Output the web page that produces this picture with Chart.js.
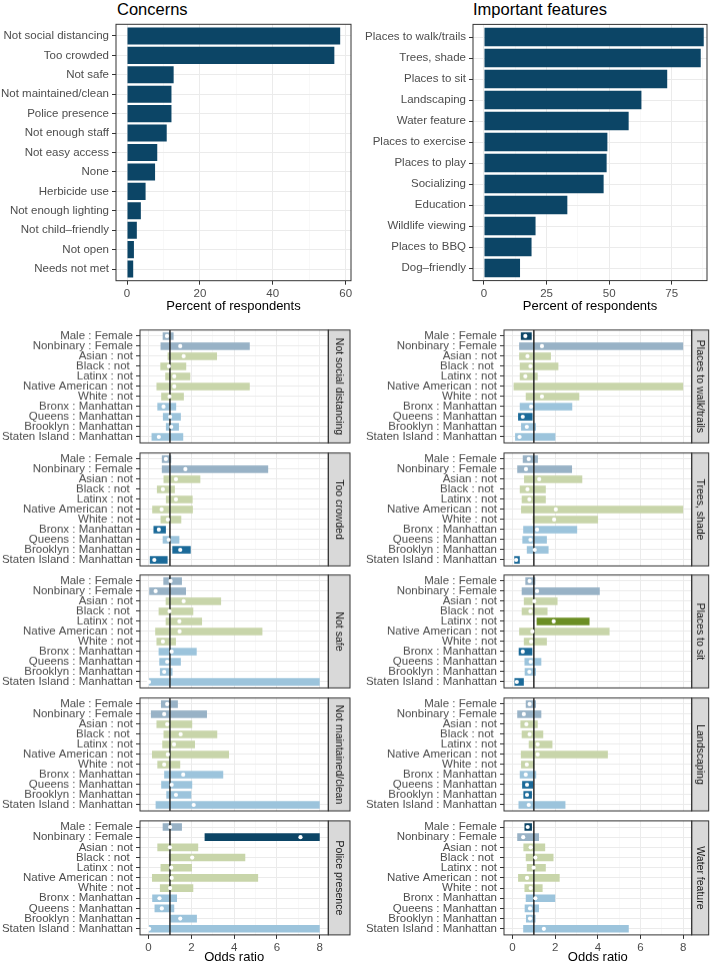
<!DOCTYPE html>
<html>
<head>
<meta charset="utf-8">
<script src="https://cdn.jsdelivr.net/npm/chart.js@4.4.0/dist/chart.umd.min.js"></script>
<style>
  body { margin: 0; background: #fff; width: 716px; height: 965px; position: relative; overflow: hidden; font-family: "Liberation Sans", Arial, sans-serif; }
  .box { position: absolute; }
  .title { position: absolute; font-size: 16.5px; color: #000; white-space: nowrap; }
</style>
</head>
<body>
<div class="title" style="left:117px;top:0px">Concerns</div>
<div class="title" style="left:473px;top:0px">Important features</div>
<script>
const concernLabels = ["Not social distancing", "Too crowded", "Not safe", "Not maintained/clean", "Police presence", "Not enough staff", "Not easy access", "None", "Herbicide use", "Not enough lighting", "Not child\u2013friendly", "Not open", "Needs not met"];
const concernValues = [58.5, 56.9, 12.8, 12.2, 12.2, 10.9, 8.3, 7.7, 5.1, 3.8, 2.7, 1.9, 1.7];

const featureLabels = ["Places to walk/trails", "Trees, shade", "Places to sit", "Landscaping", "Water feature", "Places to exercise", "Places to play", "Socializing", "Education", "Wildlife viewing", "Places to BBQ", "Dog\u2013friendly"];
const featureValues = [87.8, 86.6, 73.2, 62.9, 57.8, 49.3, 49.0, 47.8, 33.3, 20.6, 19.0, 14.4];

const contrastLabels = ["Male : Female", "Nonbinary : Female", "Asian : not", "Black : not ", "Latinx : not", "Native American : not", "White : not", "Bronx : Manhattan", "Queens : Manhattan", "Brooklyn : Manhattan", "Staten Island : Manhattan"];
const contrastGroup = ["gender", "gender", "race", "race", "race", "race", "race", "borough", "borough", "borough", "borough"];

// each row: [lower, estimate, upper]
const orNotSocial = [[0.66, 0.86, 1.17], [0.56, 1.48, 4.73], [0.89, 1.64, 3.20], [0.55, 0.95, 1.76], [0.78, 1.20, 1.95], [0.37, 1.20, 4.73], [0.59, 0.98, 1.65], [0.41, 0.70, 1.29], [0.67, 1.01, 1.51], [0.81, 1.06, 1.42], [0.14, 0.48, 1.62]];
const sigNotSocial = [0, 0, 0, 0, 0, 0, 0, 0, 0, 0, 0];

const orWalk = [[0.39, 0.60, 0.90], [0.31, 1.38, 8.0], [0.31, 0.70, 1.80], [0.34, 0.84, 2.15], [0.34, 0.60, 1.18], [0.05, null, 8.0], [0.62, 1.38, 3.13], [0.34, 0.87, 2.80], [0.26, 0.48, 0.94], [0.40, 0.67, 1.10], [0.12, 0.33, 2.01]];
const sigWalk = [1, 0, 0, 0, 0, 0, 0, 0, 1, 0, 0];

const orCrowded = [[0.62, 0.81, 1.06], [0.62, 1.72, 5.59], [0.70, 1.28, 2.42], [0.39, 0.67, 1.23], [0.81, 1.28, 2.06], [0.17, 0.61, 2.07], [0.56, 0.90, 1.53], [0.23, 0.48, 0.81], [0.66, 0.94, 1.44], [1.11, 1.48, 1.97], [0.06, 0.27, 0.89]];
const sigCrowded = [0, 0, 0, 0, 0, 0, 0, 1, 0, 1, 1];

const orTrees = [[0.48, 0.76, 1.19], [0.22, 0.63, 2.79], [0.54, 1.25, 3.27], [0.34, 0.70, 1.56], [0.43, 0.79, 1.56], [0.40, 2.03, 8.0], [0.94, 1.95, 4.01], [0.50, 1.15, 3.03], [0.46, 0.84, 1.61], [0.67, 1.04, 1.69], [0.08, 0.17, 0.34]];
const sigTrees = [0, 0, 0, 0, 0, 0, 0, 0, 0, 0, 1];

const orSafe = [[0.69, 1.03, 1.56], [0.03, 0.33, 1.75], [0.80, 1.64, 3.39], [0.47, 0.98, 2.09], [0.80, 1.44, 2.50], [0.31, 1.45, 5.32], [0.37, 0.67, 1.28], [0.47, 1.08, 2.25], [0.50, 0.87, 1.51], [0.53, 0.73, 1.12], [0.0, 0.02, 8.0]];
const sigSafe = [0, 0, 0, 0, 0, 0, 0, 0, 0, 0, 0];

const orSit = [[0.60, 0.80, 1.07], [0.43, 1.15, 4.09], [0.53, 1.02, 2.11], [0.43, 0.84, 1.64], [1.13, 1.93, 3.61], [0.31, 0.93, 4.55], [0.53, 0.87, 1.61], [0.29, 0.48, 0.93], [0.56, 0.85, 1.35], [0.57, 0.79, 1.10], [0.09, 0.20, 0.53]];
const sigSit = [0, 0, 0, 0, 1, 0, 0, 1, 0, 0, 1];

const orMaintained = [[0.58, 0.87, 1.37], [0.11, 0.73, 2.73], [0.37, 0.87, 2.04], [0.70, 1.50, 3.21], [0.64, 1.19, 2.17], [0.16, 0.90, 3.76], [0.41, 0.73, 1.48], [0.73, 1.62, 3.49], [0.59, 1.08, 2.04], [0.83, 1.28, 2.00], [0.33, 2.11, 8.0]];
const sigMaintained = [0, 0, 0, 0, 0, 0, 0, 0, 0, 0, 0];

const orLandscaping = [[0.62, 0.80, 1.10], [0.22, 0.53, 1.35], [0.37, 0.65, 1.18], [0.43, 0.80, 1.44], [0.76, 1.18, 1.87], [0.39, 1.18, 4.47], [0.40, 0.67, 1.02], [0.34, 0.62, 1.11], [0.45, 0.68, 0.96], [0.51, 0.68, 0.91], [0.28, 0.76, 2.48]];
const sigLandscaping = [0, 0, 0, 0, 0, 0, 0, 0, 1, 1, 0];

const orPolice = [[0.66, 1.01, 1.56], [2.62, 7.10, 8.0], [0.41, 1.00, 2.32], [0.95, 2.04, 4.52], [0.56, 1.06, 2.03], [0.16, 1.08, 5.12], [0.53, 1.01, 2.09], [0.17, 0.51, 1.33], [0.28, 0.62, 1.20], [1.01, 1.48, 2.26], [0.02, 0.03, 8.0]];
const sigPolice = [0, 1, 0, 0, 0, 0, 0, 0, 0, 0, 0];

const orWater = [[0.56, 0.71, 0.91], [0.22, 0.50, 1.24], [0.51, 0.85, 1.53], [0.62, 1.07, 1.92], [0.67, 0.99, 1.56], [0.26, 0.68, 2.21], [0.56, 0.85, 1.41], [0.62, 1.07, 2.00], [0.57, 0.82, 1.24], [0.63, 0.82, 1.08], [0.50, 1.47, 5.45]];
const sigWater = [1, 0, 0, 0, 0, 0, 0, 0, 0, 0, 0];

const oddsTicks = [0, 1, 2, 3, 4, 5, 6, 7, 8];
const concernTicks = [0, 10, 20, 30, 40, 50, 60];
const featureTicks = [0, 12.5, 25, 37.5, 50, 62.5, 75, 87.5];

const facets = [
  { label: "Not social distancing", rows: orNotSocial, sig: sigNotSocial, col: 0, row: 0 },
  { label: "Too crowded", rows: orCrowded, sig: sigCrowded, col: 0, row: 1 },
  { label: "Not safe", rows: orSafe, sig: sigSafe, col: 0, row: 2 },
  { label: "Not maintained/clean", rows: orMaintained, sig: sigMaintained, col: 0, row: 3 },
  { label: "Police presence", rows: orPolice, sig: sigPolice, col: 0, row: 4 },
  { label: "Places to walk/trails", rows: orWalk, sig: sigWalk, col: 1, row: 0 },
  { label: "Trees, shade", rows: orTrees, sig: sigTrees, col: 1, row: 1 },
  { label: "Places to sit", rows: orSit, sig: sigSit, col: 1, row: 2 },
  { label: "Landscaping", rows: orLandscaping, sig: sigLandscaping, col: 1, row: 3 },
  { label: "Water feature", rows: orWater, sig: sigWater, col: 1, row: 4 },
];

const navy = "#0c4566";
const fillLight = { gender: "#98b2c6", race: "#c8d5aa", borough: "#9cc4dc" };
const fillSig = { gender: navy, race: "#6b8e23", borough: "#1b6a99" };

Chart.defaults.font.family = '"Liberation Sans", Arial, sans-serif';
Chart.defaults.animation = false;

// panel border, reference line (under the points) and facet strip
const panelPlugin = {
  id: "panel",
  beforeDatasetDraw(chart, args, opts) {
    if (opts.refLine == null || args.index !== 1) return;
    const { ctx, chartArea } = chart;
    const x = chart.scales.x.getPixelForValue(opts.refLine);
    ctx.save();
    ctx.strokeStyle = "#1a1a1a";
    ctx.lineWidth = 1.4;
    ctx.beginPath();
    ctx.moveTo(x, chartArea.top);
    ctx.lineTo(x, chartArea.bottom);
    ctx.stroke();
    ctx.restore();
  },
  afterDraw(chart, args, opts) {
    const { ctx, chartArea: a } = chart;
    ctx.save();
    if (opts.strip) {
      const w = opts.stripWidth;
      ctx.fillStyle = "#d9d9d9";
      ctx.fillRect(a.right, a.top, w, a.bottom - a.top);
      ctx.strokeStyle = "#333";
      ctx.lineWidth = 1;
      ctx.strokeRect(a.right, a.top, w, a.bottom - a.top);
      ctx.translate(a.right + w / 2, (a.top + a.bottom) / 2);
      ctx.rotate(Math.PI / 2);
      ctx.fillStyle = "#1a1a1a";
      ctx.font = '10.5px "Liberation Sans", Arial, sans-serif';
      ctx.textAlign = "center";
      ctx.textBaseline = "middle";
      ctx.fillText(opts.strip, 0, 0);
      ctx.setTransform(1, 0, 0, 1, 0, 0);
    }
    ctx.strokeStyle = "#333";
    ctx.lineWidth = 1;
    ctx.strokeRect(a.left, a.top, a.right - a.left, a.bottom - a.top);
    ctx.restore();
  },
};

const place = (left, top, width, height) => {
  const div = document.createElement("div");
  div.className = "box";
  div.style.left = left + "px";
  div.style.top = top + "px";
  div.style.width = width + "px";
  div.style.height = height + "px";
  const canvas = document.createElement("canvas");
  div.appendChild(canvas);
  document.body.appendChild(div);
  return canvas;
};

const tickValue = (c) => (c && c.tick ? c.tick.value : NaN);

const categoryAxis = (labels, width) => ({
  type: "linear",
  reverse: true,
  offset: false,
  min: -0.6,
  max: labels.length - 0.4,
  afterBuildTicks: (scale) => {
    scale.ticks = labels.map((_, i) => ({ value: i }));
  },
  afterFit: (scale) => {
    scale.width = width;
  },
  border: { display: false },
  grid: { offset: false, color: "#ebebeb", lineWidth: 1, tickColor: "#333", tickLength: 4 },
  ticks: {
    autoSkip: false,
    padding: 3,
    color: "#4d4d4d",
    font: { size: 11.5 },
    callback: (v) => labels[v],
  },
});

const valueAxis = (min, max, tickValues, isMajor, height, showLabels, title) => ({
  type: "linear",
  offset: false,
  min: min,
  max: max,
  afterBuildTicks: (scale) => {
    scale.ticks = tickValues.map((v) => ({ value: v }));
  },
  afterFit: (scale) => {
    scale.height = height;
  },
  border: { display: false },
  grid: {
    offset: false,
    color: (c) => (isMajor(tickValue(c)) ? "#ebebeb" : "#f3f3f3"),
    lineWidth: (c) => (isMajor(tickValue(c)) ? 1 : 0.6),
    drawTicks: showLabels,
    tickColor: (c) => (isMajor(tickValue(c)) ? "#333" : "rgba(0,0,0,0)"),
    tickLength: 4,
  },
  ticks: {
    display: showLabels,
    autoSkip: false,
    maxRotation: 0,
    padding: 2,
    color: "#4d4d4d",
    font: { size: 11.5 },
    callback: (v) => (isMajor(v) ? String(v) : ""),
  },
  title: {
    display: !!title,
    text: title || "",
    color: "#000",
    font: { size: 13 },
    padding: { top: 0, bottom: 0 },
  },
});

// canvas box and plotting area are both given in page pixels
const buildTopChart = (box, area, labels, values, xMin, xMax, ticks, isMajor) => {
  const canvas = place(box.left, box.top, box.width, box.height);
  return new Chart(canvas, {
    type: "bar",
    data: {
      datasets: [
        {
          indexAxis: "y",
          data: labels.map((_, i) => ({ x: values[i], y: i })),
          backgroundColor: navy,
          barPercentage: 0.88,
          categoryPercentage: 1,
        },
      ],
    },
    options: {
      responsive: true,
      maintainAspectRatio: false,
      layout: {
        padding: { left: 0, top: area.top - box.top, right: box.left + box.width - area.right, bottom: 0 },
      },
      plugins: { legend: { display: false }, tooltip: { enabled: false }, panel: { strip: null } },
      scales: {
        x: valueAxis(xMin, xMax, ticks, isMajor, box.top + box.height - area.bottom, true, "Percent of respondents"),
        y: categoryAxis(labels, area.left - box.left),
      },
    },
    plugins: [panelPlugin],
  });
};

buildTopChart(
  { left: 0, top: 14, width: 358, height: 300 },
  { left: 116, top: 24.3, right: 351, bottom: 280.7 },
  concernLabels, concernValues, -3.02, 61.47, concernTicks, (v) => v % 20 === 0
);

buildTopChart(
  { left: 358, top: 14, width: 358, height: 300 },
  { left: 473, top: 24.4, right: 707, bottom: 280.6 },
  featureLabels, featureValues, -4.39, 89.1, featureTicks, (v) => v % 25 === 0
);

const columns = [
  { boxLeft: 0, areaLeft: 140, areaRight: 328.3, strip: 21.7 },
  { boxLeft: 358, areaLeft: 504, areaRight: 691.7, strip: 17 },
];

facets.forEach((f) => {
  const col = columns[f.col];
  const top = 328.1 + 122.6 * f.row;
  const bottom = top + 115.9;
  const last = f.row === 4;
  const boxTop = top - 8;
  const boxBottom = last ? 965 : bottom + 8;
  const box = { left: col.boxLeft, top: boxTop, width: 358, height: boxBottom - boxTop };
  const colors = f.rows.map((_, i) => (f.sig[i] ? fillSig : fillLight)[contrastGroup[i]]);
  const canvas = place(box.left, box.top, box.width, box.height);
  new Chart(canvas, {
    type: "bar",
    data: {
      datasets: [
        {
          indexAxis: "y",
          order: 1,
          data: f.rows.map((r, i) => ({ x: [r[0], r[2]], y: i })),
          backgroundColor: colors,
          barPercentage: 0.75,
          categoryPercentage: 1,
        },
        {
          type: "scatter",
          order: 0,
          data: f.rows.map((r, i) => ({ x: r[1], y: i })),
          pointRadius: 2.1,
          pointBackgroundColor: "#fff",
          pointBorderWidth: 0,
        },
      ],
    },
    options: {
      responsive: true,
      maintainAspectRatio: false,
      layout: {
        padding: { left: 0, top: top - boxTop, right: box.left + box.width - col.areaRight, bottom: 0 },
      },
      plugins: {
        legend: { display: false },
        tooltip: { enabled: false },
        panel: { strip: f.label, stripWidth: col.strip, refLine: 1 },
      },
      scales: {
        x: valueAxis(-0.4, 8.4, oddsTicks, (v) => v % 2 === 0, boxBottom - bottom, last, last ? "Odds ratio" : null),
        y: categoryAxis(contrastLabels, col.areaLeft - col.boxLeft),
      },
    },
    plugins: [panelPlugin],
  });
});
</script>
</body>
</html>
